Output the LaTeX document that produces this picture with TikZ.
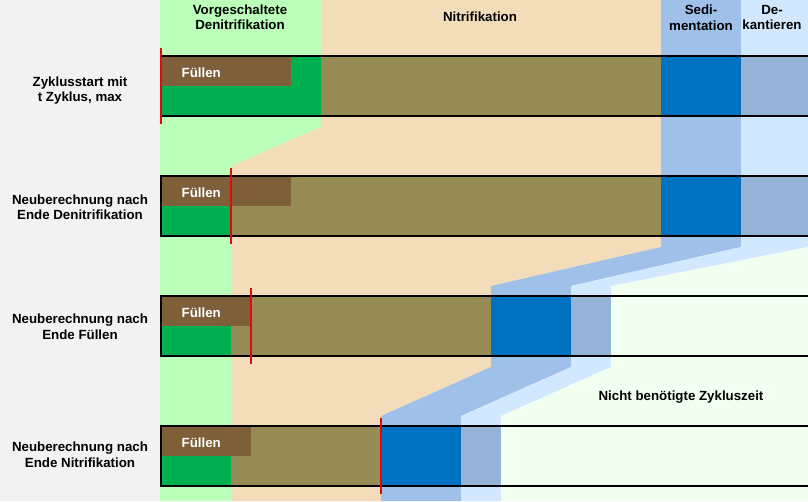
\documentclass[tikz,border=0pt]{standalone}
\usepackage{fontspec}
\setmainfont{Liberation Sans}
\definecolor{panel}{HTML}{F2F2F2}
\definecolor{lgreen}{HTML}{BBFFBB}
\definecolor{peach}{HTML}{F2DCBA}
\definecolor{sedband}{HTML}{9FC0E8}
\definecolor{dekband}{HTML}{D2E8FF}
\definecolor{mint}{HTML}{F0FFF0}
\definecolor{olivebar}{HTML}{968B55}
\definecolor{fillbrown}{HTML}{7E5F3A}
\definecolor{denigreen}{HTML}{00B050}
\definecolor{sedblue}{HTML}{0070C0}
\definecolor{dekgray}{HTML}{95B3D7}
\definecolor{markred}{HTML}{E00A0A}
\begin{document}
\begin{tikzpicture}[x=1pt,y=-1pt,
  lbl/.style={font=\bfseries\fontsize{13.3}{15.3}\selectfont, align=center, inner sep=0pt, text=black},
  filltext/.style={font=\bfseries\fontsize{13.3}{15.3}\selectfont, inner sep=0pt, text=white, anchor=base west},
  barline/.style={draw=black, line width=2.2pt},
  redmark/.style={draw=markred, line width=2.2pt}]
\useasboundingbox (0,0) rectangle (808,501);
\clip (0,0) rectangle (808,501);
% background bands
\fill[panel] (0,0) rectangle (808,501);
\fill[lgreen] (160,0) -- (321,0) -- (321,127) -- (231,166) -- (231,501) -- (160,501) -- cycle;
\fill[peach] (321,0) -- (661,0) -- (661,247) -- (491,286) -- (491,367) -- (381,416) -- (381,501)
  -- (231,501) -- (231,166) -- (321,127) -- cycle;
\fill[sedband] (661,0) -- (741,0) -- (741,247) -- (571,286) -- (571,367) -- (461,416) -- (461,501)
  -- (381,501) -- (381,416) -- (491,367) -- (491,286) -- (661,247) -- cycle;
\fill[dekband] (741,0) -- (808,0) -- (808,247) -- (611,286) -- (611,367) -- (501,416) -- (501,501)
  -- (461,501) -- (461,416) -- (571,367) -- (571,286) -- (741,247) -- cycle;
\fill[mint] (808,247) -- (611,286) -- (611,367) -- (501,416) -- (501,501) -- (808,501) -- cycle;
% bars
\foreach \T/\ol/\g/\f/\gb [count=\i] in {56/661/321/291/812, 176/661/231/291/812, 296/491/231/251/611, 426/381/231/251/501} {
  \fill[olivebar] (160,\T) rectangle (\ol,\T+60);
  \fill[denigreen] (160,\T) rectangle (\g,\T+60);
  \fill[fillbrown] (160,\T) rectangle (\f,\T+30);
  \fill[sedblue] (\ol,\T) rectangle (\ol+80,\T+60);
  \fill[dekgray] (\ol+80,\T) rectangle (\gb,\T+60);
  \draw[barline] (161,\T) rectangle (812,\T+60);
  \node[filltext] (fill\i) at (181.5,\T+21.3) {Füllen};
}
% red markers
\foreach \x/\T in {161/56, 231/176, 251/296, 381/426}
  \draw[redmark] (\x,\T-8) -- (\x,\T+68);
% headers
\node[lbl] (hdeni) at (240,17.3) {Vorgeschaltete\\Denitrifikation};
\node[lbl] (hnitri) at (480,17.2) {Nitrifikation};
\node[lbl] (hsedi) at (701,17.8) {Sedi-\\mentation};
\node[lbl] (hdek) at (772,17.8) {De-\\kantieren};
% row labels
\node[lbl] (row1) at (80,90.7) {Zyklusstart mit\\t Zyklus, max};
\node[lbl] (row2) at (80,207.3) {Neuberechnung nach\\Ende Denitrifikation};
\node[lbl] (row3) at (80,326.8) {Neuberechnung nach\\Ende Füllen};
\node[lbl] (row4) at (80,454.8) {Neuberechnung nach\\Ende Nitrifikation};
\node[lbl] (spare) at (681,397.2) {Nicht benötigte Zykluszeit};
\end{tikzpicture}
\end{document}
